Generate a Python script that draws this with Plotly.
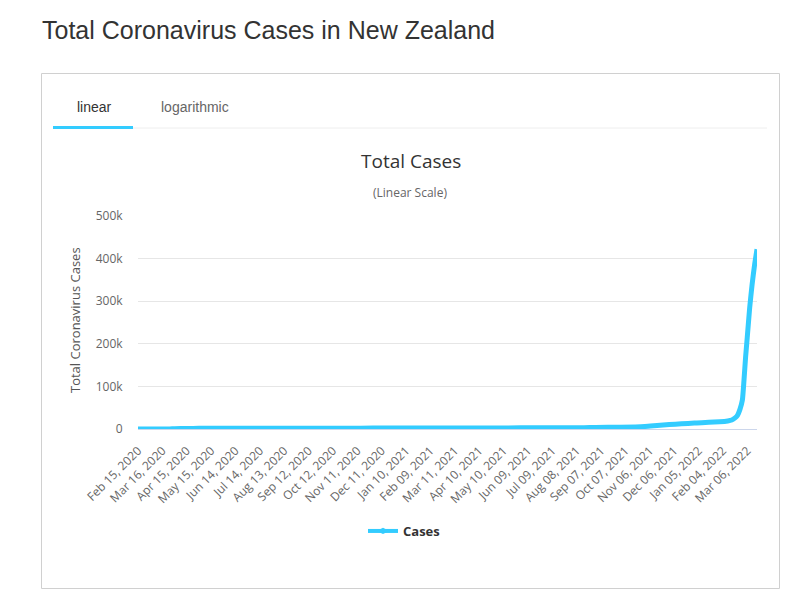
import plotly.graph_objects as go
from datetime import datetime

# ---------------- data ----------------
dates = [
    "2020-02-15", "2020-02-28", "2020-03-20", "2020-03-25", "2020-03-31",
    "2020-04-15", "2020-04-30", "2020-05-31", "2020-06-30", "2020-07-31",
    "2020-08-31", "2020-09-30", "2020-10-31", "2020-11-30", "2020-12-31",
    "2021-01-31", "2021-02-28", "2021-03-31", "2021-04-30", "2021-05-31",
    "2021-06-30", "2021-07-31", "2021-08-17", "2021-08-31", "2021-09-30",
    "2021-10-31", "2021-11-15", "2021-11-30", "2021-12-15", "2021-12-31",
    "2022-01-31", "2022-02-10", "2022-02-15", "2022-02-19", "2022-02-22",
    "2022-02-25", "2022-02-28", "2022-03-02", "2022-03-04", "2022-03-06",
    "2022-03-09", "2022-03-12", "2022-03-15", "2022-03-18",
]
cases = [
    0, 1, 52, 205, 647,
    1386, 1476, 1504, 1528, 1560,
    1739, 1833, 1951, 2054, 2162,
    2304, 2372, 2507, 2601, 2657,
    2731, 2859, 2926, 3594, 4289,
    6100, 8300, 10400, 12300, 14000,
    16800, 18800, 21000, 26000, 32000,
    46000, 68000, 115000, 170000, 215000,
    285000, 340000, 385000, 422000,
]
tick_labels = [
    "Feb 15, 2020", "Mar 16, 2020", "Apr 15, 2020", "May 15, 2020",
    "Jun 14, 2020", "Jul 14, 2020", "Aug 13, 2020", "Sep 12, 2020",
    "Oct 12, 2020", "Nov 11, 2020", "Dec 11, 2020", "Jan 10, 2021",
    "Feb 09, 2021", "Mar 11, 2021", "Apr 10, 2021", "May 10, 2021",
    "Jun 09, 2021", "Jul 09, 2021", "Aug 08, 2021", "Sep 07, 2021",
    "Oct 07, 2021", "Nov 06, 2021", "Dec 06, 2021", "Jan 05, 2022",
    "Feb 04, 2022", "Mar 06, 2022",
]
y_ticks = [0, 100000, 200000, 300000, 400000, 500000]
y_tick_labels = ["0", "100k", "200k", "300k", "400k", "500k"]
series_name = "Cases"

tick_vals = [datetime.strptime(t, "%b %d, %Y").strftime("%Y-%m-%d") for t in tick_labels]

# ---------------- layout geometry (pixels) ----------------
W, H = 800, 595
PL, PR, PT, PB = 138, 757, 216, 429   # plot area in pixels


def px(x):
    return (x - PL) / (PR - PL)


def py(y):
    return (PB - y) / (PB - PT)


LINE_COLOR = "#33ccff"
FONT = "Open Sans"

fig = go.Figure()
fig.add_trace(go.Scatter(
    x=dates, y=cases, mode="lines", name=series_name,
    line=dict(color=LINE_COLOR, width=5, shape="spline", smoothing=0.5),
    showlegend=False, hoverinfo="x+y",
))
# legend entry (line + marker symbol)
fig.add_trace(go.Scatter(
    x=[None], y=[None], mode="lines+markers", name=series_name,
    line=dict(color=LINE_COLOR, width=4),
    marker=dict(color=LINE_COLOR, size=9, symbol="diamond-wide"),
    showlegend=True,
))

shapes = [
    # outer box
    dict(type="rect", xref="paper", yref="paper",
         x0=px(41.5), x1=px(779.5), y0=py(73.5), y1=py(588.5),
         line=dict(color="#d0d0d0", width=1), layer="below"),
    # tab separator
    dict(type="line", xref="paper", yref="paper",
         x0=px(53), x1=px(767), y0=py(128), y1=py(128),
         line=dict(color="#eeeeee", width=1)),
    # active tab underline
    dict(type="line", xref="paper", yref="paper",
         x0=px(53), x1=px(133), y0=py(127.5), y1=py(127.5),
         line=dict(color=LINE_COLOR, width=3)),
]

annotations = [
    dict(text="Total Coronavirus Cases in New Zealand", xref="paper", yref="paper",
         x=px(40), y=py(30), xanchor="left", yanchor="middle", showarrow=False,
         font=dict(family="Liberation Sans", size=25, color="#333333")),
    dict(text="linear", xref="paper", yref="paper",
         x=px(94), y=py(107), xanchor="center", yanchor="middle", showarrow=False,
         font=dict(family="Liberation Sans", size=14, color="#333333")),
    dict(text="logarithmic", xref="paper", yref="paper",
         x=px(195), y=py(107), xanchor="center", yanchor="middle", showarrow=False,
         font=dict(family="Liberation Sans", size=14, color="#666666")),
    dict(text="Total Cases", xref="paper", yref="paper",
         x=px(411), y=py(161), xanchor="center", yanchor="middle", showarrow=False,
         font=dict(family=FONT, size=19, color="#333333")),
    dict(text="(Linear Scale)", xref="paper", yref="paper",
         x=px(410), y=py(192), xanchor="center", yanchor="middle", showarrow=False,
         font=dict(family=FONT, size=12, color="#666666")),
    dict(text="Total Coronavirus Cases", xref="paper", yref="paper",
         x=px(75), y=py(320), xanchor="center", yanchor="middle", showarrow=False,
         textangle=-90,
         font=dict(family=FONT, size=13, color="#555555")),
]

fig.update_layout(
    width=W, height=H,
    margin=dict(l=PL, r=W - PR, t=PT, b=H - PB),
    paper_bgcolor="white", plot_bgcolor="white",
    font=dict(family=FONT, size=11, color="#666666"),
    shapes=shapes, annotations=annotations,
    showlegend=True,
    legend=dict(orientation="h", x=px(404), y=py(531), xanchor="center", yanchor="middle",
                font=dict(family=FONT, size=13, color="#333333", weight="bold"),
                itemwidth=30, bgcolor="rgba(0,0,0,0)"),
    hovermode="x",
)
fig.update_xaxes(
    type="date", range=[dates[0], dates[-1]],
    tickvals=tick_vals, ticktext=tick_labels, tickangle=-45,
    showgrid=False, showline=True, linecolor="#ccd6eb", linewidth=1,
    ticks="outside", ticklen=9, tickcolor="rgba(0,0,0,0)",
    tickfont=dict(family=FONT, size=12, color="#666666"),
    zeroline=False,
)
fig.update_yaxes(
    range=[0, 500000], tickvals=y_ticks, ticktext=y_tick_labels,
    showgrid=True, gridcolor="#e6e6e6", gridwidth=1,
    zeroline=False, showline=False,
    ticks="outside", ticklen=12, tickcolor="rgba(0,0,0,0)",
    tickfont=dict(family=FONT, size=12, color="#666666"),
)

fig.write_html("out.html")
